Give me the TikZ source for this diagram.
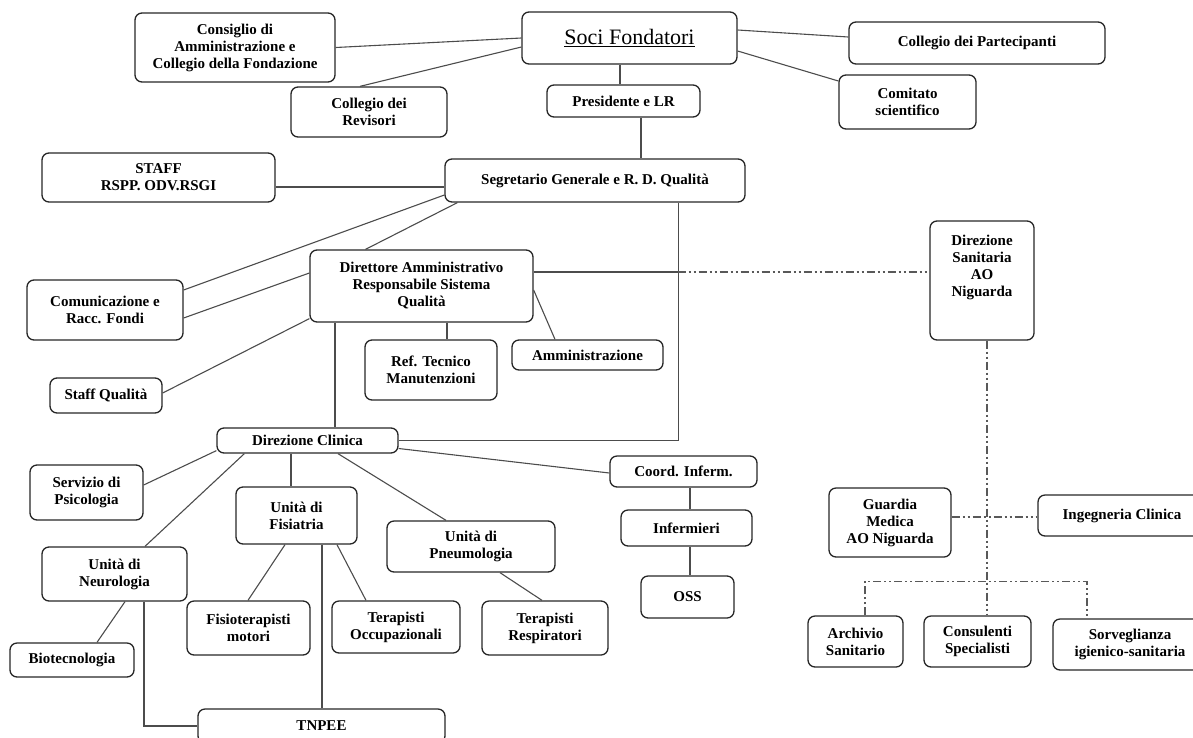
\documentclass[tikz,border=0pt]{standalone}
\usepackage{fontspec}
\setmainfont{Liberation Serif}
\usetikzlibrary{calc}
\tikzset{
  bx/.style={draw=black!85, line width=1.3pt, rounded corners=7pt, align=center, inner sep=2pt,
    font=\fontsize{15}{17}\selectfont\bfseries},
  ln/.style={draw=black!70, line width=1.1pt},
  dd/.style={draw=black!65, line width=1.1pt, dash pattern=on 8pt off 3pt on 2pt off 3pt on 2pt off 3pt},
}
\begin{document}
\begin{tikzpicture}[x=1pt,y=-1pt]
\useasboundingbox (0,0) rectangle (1193,737);
\clip (0,0) rectangle (1193,737);
% boxes
\node[bx, minimum width=200pt, minimum height=69pt] (cons) at (235,47.5) {Consiglio di\\Amministrazione e\\Collegio della Fondazione};
\node[bx, minimum width=215pt, minimum height=52pt, font=\fontsize{22}{24}\selectfont] (soci) at (629.5,38) {\underline{Soci Fondatori}};
\node[bx, minimum width=256pt, minimum height=42pt] (part) at (977,43) {Collegio dei Partecipanti};
\node[bx, minimum width=156pt, minimum height=50pt] (rev) at (369,112) {Collegio dei\\Revisori};
\node[bx, minimum width=153pt, minimum height=32pt] (pres) at (623.5,101) {Presidente e LR};
\node[bx, minimum width=137pt, minimum height=54pt] (comi) at (907.5,102) {Comitato\\scientifico};
\node[bx, minimum width=233pt, minimum height=49pt] (staff) at (158.5,177.5) {STAFF\\RSPP. ODV.RSGI};
\node[bx, minimum width=300pt, minimum height=43pt] (segr) at (595,180.5) {Segretario Generale e R. D. Qualità};
\node[bx, minimum width=104pt, minimum height=119pt] (dsan) at (982,280.5) {};
\node[align=center, font=\fontsize{15}{17}\selectfont\bfseries] (dsant) at (982,267) {Direzione\\Sanitaria\\AO\\Niguarda};
\node[bx, minimum width=223pt, minimum height=72pt] (dir) at (421.5,286) {Direttore Amministrativo\\Responsabile Sistema\\Qualità};
\node[bx, minimum width=156pt, minimum height=60pt] (comu) at (105,310) {Comunicazione e\\Racc. Fondi};
\node[bx, minimum width=132pt, minimum height=60pt] (ref) at (431,370) {Ref. Tecnico\\Manutenzioni};
\node[bx, minimum width=151pt, minimum height=30pt] (amm) at (587.5,355) {Amministrazione};
\node[bx, minimum width=112pt, minimum height=35pt] (sq) at (106,395.5) {Staff Qualità};
\node[bx, minimum width=181pt, minimum height=25pt] (dcl) at (307.5,440.5) {Direzione Clinica};
\node[bx, minimum width=113pt, minimum height=55pt] (psi) at (86.5,492.5) {Servizio di\\Psicologia};
\node[bx, minimum width=147pt, minimum height=31pt] (coord) at (683.5,471.5) {Coord. Inferm.};
\node[bx, minimum width=121pt, minimum height=57pt] (fis) at (296.5,515.5) {Unità di\\Fisiatria};
\node[bx, minimum width=168pt, minimum height=51pt] (pneu) at (471,546.5) {Unità di\\Pneumologia};
\node[bx, minimum width=131pt, minimum height=36pt] (inf) at (686.5,528) {Infermieri};
\node[bx, minimum width=145pt, minimum height=54pt] (neu) at (114.5,574) {Unità di\\Neurologia};
\node[bx, minimum width=123pt, minimum height=54pt] (fisio) at (248.5,628) {Fisioterapisti\\motori};
\node[bx, minimum width=128pt, minimum height=52pt] (tocc) at (396,627) {Terapisti\\Occupazionali};
\node[bx, minimum width=126pt, minimum height=54pt] (tresp) at (545,628) {Terapisti\\Respiratori};
\node[bx, minimum width=93pt, minimum height=42pt] (oss) at (687.5,597) {OSS};
\node[bx, minimum width=124pt, minimum height=34pt] (bio) at (72,660) {Biotecnologia};
\node[bx, minimum width=247pt, minimum height=34pt] (tnpee) at (321.5,726) {TNPEE};
\node[bx, minimum width=122pt, minimum height=69pt] (gua) at (890,522.5) {Guardia\\Medica\\AO Niguarda};
\node[bx, minimum width=168pt, minimum height=41pt] (ing) at (1122,515.5) {Ingegneria Clinica};
\node[bx, minimum width=95pt, minimum height=51pt] (arch) at (855.5,641.5) {Archivio\\Sanitario};
\node[bx, minimum width=107pt, minimum height=51pt] (cons2) at (977.5,641.5) {Consulenti\\Specialisti};
\node[bx, minimum width=154pt, minimum height=51pt] (sorv) at (1130,644.5) {Sorveglianza\\igienico-sanitaria};
% helper coordinates
\coordinate (p1) at ($(pres.north)+(-3.5,0)$);
\coordinate (p2) at ($(pres.south)+(17.5,0)$);
\coordinate (s1) at ($(staff.east)+(0,9.5)$);
\coordinate (d1) at ($(dir.south)+(25.5,0)$);
\coordinate (d2) at ($(dir.south)+(-86.5,0)$);
\coordinate (sgc) at ($(segr.south east)+(-67,0)$);
\coordinate (dstart) at ($(dir.east)+(0,-14)$);
\coordinate (dmid) at ($(dir.east)+(144,-14)$);
\coordinate (c1) at ($(dcl.south)+(-16.5,0)$);
\coordinate (c2) at ($(coord.south)+(6.5,0)$);
\coordinate (c3) at ($(inf.south)+(3.5,0)$);
\coordinate (f1) at ($(fis.south)+(25.5,0)$);
\coordinate (n1) at ($(neu.south)+(29.5,0)$);
\coordinate (ds1) at ($(dsan.south)+(5,0)$);
\coordinate (g1) at ($(gua.east)+(0,-5.5)$);
\coordinate (brl) at ($(arch.north)+(9.5,-34)$);
\coordinate (brr) at ($(sorv.north)+(-43,-37)$);
% top connectors
\draw[ln] (soci.west) -- (cons.east);
\draw[ln] ($(soci.west)+(0,9)$) -- ($(rev.north)+(-9,0)$);
\draw[ln] ($(soci.east)+(0,-8)$) -- ($(part.west)+(0,-6)$);
\draw[ln] ($(soci.east)+(0,13)$) -- ($(comi.west)+(0,-21)$);
\draw[ln] (p1) -- (p1 |- soci.south);
\draw[ln] (p2) -- (p2 |- segr.north);
\draw[ln] (s1) -- (s1 -| segr.west);
\draw[ln] ($(segr.west)+(0,14.5)$) -- ($(comu.east)+(0,-20)$);
\draw[ln] ($(segr.south west)+(13,0)$) -- ($(dir.north)+(-56,0)$);
\draw[ln] ($(dir.west)+(0,-13)$) -- ($(comu.east)+(0,8)$);
\draw[ln] ($(dir.south west)+(0,-4)$) -- ($(sq.east)+(0,-2.5)$);
\draw[ln] ($(dir.east)+(0,4)$) -- ($(amm.north)+(-32.5,0)$);
\draw[ln] (d1) -- (d1 |- ref.north);
\draw[ln] (d2) -- (d2 |- dcl.north);
\draw[ln] (sgc) -- (sgc |- dcl.east) -- (dcl.east);
\draw[ln] (dstart) -- (dmid);
\draw[dd] (dmid) -- (dmid -| dsan.west);
% clinical
\draw[ln] ($(dcl.south west)+(0,-3)$) -- ($(psi.east)+(0,-7.5)$);
\draw[ln] ($(dcl.south west)+(28,0)$) -- ($(neu.north)+(30.5,0)$);
\draw[ln] (c1) -- (c1 |- fis.north);
\draw[ln] ($(dcl.south)+(30.5,0)$) -- ($(pneu.north)+(-25,0)$);
\draw[ln] ($(dcl.east)+(0,8)$) -- ($(coord.west)+(0,1.5)$);
\draw[ln] (c2) -- (c2 |- inf.north);
\draw[ln] (c3) -- (c3 |- oss.north);
\draw[ln] ($(fis.south)+(-11.5,0)$) -- ($(fisio.north)+(-0.5,0)$);
\draw[ln] ($(fis.south)+(40.5,0)$) -- ($(tocc.north)+(-30,0)$);
\draw[ln] (f1) -- (f1 |- tnpee.north);
\draw[ln] ($(pneu.south)+(29,0)$) -- ($(tresp.north)+(-3,0)$);
\draw[ln] ($(neu.south)+(10.5,0)$) -- ($(bio.north)+(25,0)$);
\draw[ln] (n1) -- (n1 |- tnpee.west) -- (tnpee.west);
% sanitaria dashed
\draw[dd] (ds1) -- (ds1 |- cons2.north);
\draw[dd] (g1) -- (g1 -| ing.west);
\draw[dd] (arch.north -| brl) -- (brl) -- (brr) -- (sorv.north -| brr);
\end{tikzpicture}
\end{document}
